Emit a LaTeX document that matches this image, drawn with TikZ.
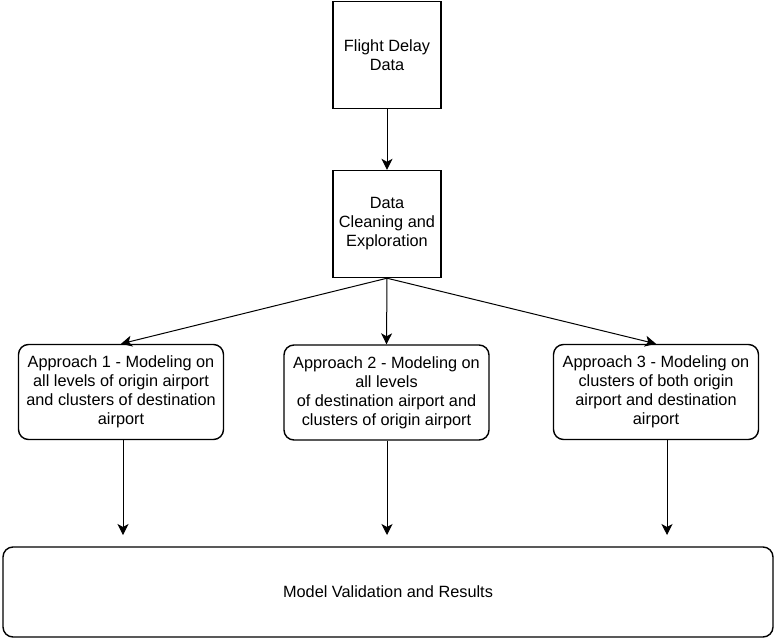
\documentclass[tikz,border=0pt]{standalone}
\usepackage{fontspec}
\setmainfont{Liberation Sans}
\usetikzlibrary{positioning}
\usetikzlibrary{arrows.meta}
\tikzset{sq/.style={draw,line width=1.4pt,minimum width=108pt,minimum height=107pt,inner sep=2pt,align=center,font=\fontsize{16.3}{19}\selectfont}}
\tikzset{app/.style={draw,line width=1.4pt,rounded corners=10pt,minimum width=205pt,minimum height=95pt,inner sep=2pt,align=center,font=\fontsize{16.3}{19}\selectfont}}
\tikzset{>={Stealth[length=11pt,width=11pt,inset=3pt]}}

\begin{document}
\begin{tikzpicture}[x=1pt,y=-1pt]
\useasboundingbox (0,0) rectangle (775,639);

\node[sq] (data) at (387,55) {Flight Delay\\Data};
\node[sq] (clean) at (387,224) {Data\\Cleaning and\\Exploration};

\node[app] (app1) at (121,392) {Approach 1 - Modeling on\\all levels of origin airport\\and clusters of destination\\airport};
\node[app] (app2) at (386.5,392.5) {Approach 2 - Modeling on\\all levels\\of destination airport and\\clusters of origin airport};
\node[app] (app3) at (656,392) {Approach 3 - Modeling on\\clusters of both origin\\airport and destination\\airport};

\node[app,minimum width=770pt,minimum height=90pt] (valid) at (388,592) {Model Validation and Results};

\draw[->,line width=1pt] (data) -- (clean);
\draw[->,line width=1pt] (clean.south) -- (app1.north);
\draw[->,line width=1pt] (clean.south) -- (app2.north);
\draw[->,line width=1pt] (clean.south) -- (app3.north);

\coordinate (e1) at (123,535);
\coordinate (e2) at (387,535);
\coordinate (e3) at (667,535);
\draw[->,line width=1pt] (e1 |- app1.south) -- (e1);
\draw[->,line width=1pt] (e2 |- app2.south) -- (e2);
\draw[->,line width=1pt] (e3 |- app3.south) -- (e3);
\end{tikzpicture}
\end{document}
